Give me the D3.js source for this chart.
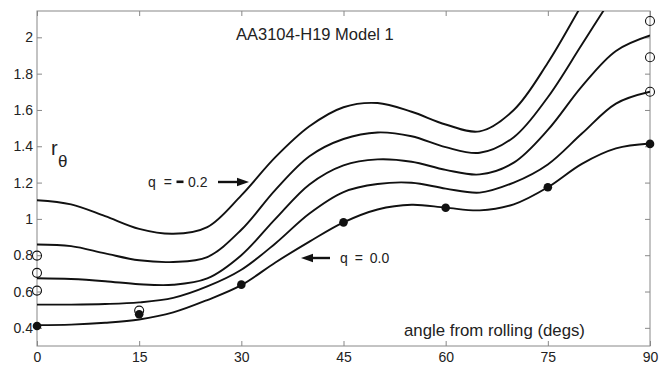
<!DOCTYPE html>
<html>
<head>
<meta charset="utf-8">
<script src="https://cdn.jsdelivr.net/npm/d3@7"></script>
<style>
  body { margin: 0; background: #fff; }
  text { font-family: "Liberation Sans", Arial, sans-serif; fill: #222; }
</style>
</head>
<body>
<div id="chart"></div>
<script>
// angles (degs) at which the model curves were read
const angles = [0, 5, 10, 15, 20, 25, 30, 35, 40, 45, 50, 55, 60, 65, 70, 75, 80, 85, 90];

// model curves, top (q = -0.2) to bottom (q = 0.0)
const curveQm20 = [1.103, 1.08, 1.015, 0.945, 0.918, 0.955, 1.13, 1.34, 1.51, 1.615, 1.638, 1.59, 1.52, 1.482, 1.60, 1.86, 2.18, 2.5, 2.75];
const curveQm15 = [0.859, 0.85, 0.81, 0.772, 0.763, 0.79, 0.94, 1.16, 1.345, 1.44, 1.476, 1.455, 1.395, 1.364, 1.45, 1.67, 1.96, 2.25, 2.5];
const curveQm10 = [0.673, 0.669, 0.657, 0.640, 0.637, 0.672, 0.80, 1.00, 1.19, 1.295, 1.328, 1.315, 1.27, 1.245, 1.31, 1.49, 1.73, 1.925, 2.01];
const curveQm05 = [0.528, 0.528, 0.531, 0.540, 0.565, 0.628, 0.72, 0.865, 1.03, 1.148, 1.192, 1.199, 1.167, 1.145, 1.20, 1.30, 1.47, 1.635, 1.70];
const curveQ00 = [0.415, 0.418, 0.428, 0.446, 0.485, 0.553, 0.635, 0.76, 0.875, 0.981, 1.052, 1.078, 1.062, 1.047, 1.08, 1.174, 1.303, 1.388, 1.415];

// measured points
const filledAngles = [0, 15, 30, 45, 60, 75, 90];
const filledR = [0.41, 0.475, 0.638, 0.981, 1.061, 1.174, 1.413];
const openAngles = [0, 0, 0, 15, 90, 90, 90];
const openR = [0.798, 0.703, 0.605, 0.495, 2.09, 1.89, 1.70];

// ticks
const xTicks = [0, 15, 30, 45, 60, 75, 90];
const yTicks = [0.4, 0.6, 0.8, 1, 1.2, 1.4, 1.6, 1.8, 2];

(function() {
    const W = 671, H = 365;
    const pL = 37, pR = 650, pT = 11, pB = 346;

    const svg = d3.select("#chart").append("svg")
        .attr("width", W)
        .attr("height", H);

    const x = d3.scaleLinear().domain([0, 90]).range([pL, pR]);
    const y = d3.scaleLinear().domain([0.3, 2.145]).range([pB, pT]);

    // clip for curves
    svg.append("defs").append("clipPath").attr("id", "plotClip")
        .append("rect")
        .attr("x", pL).attr("y", pT)
        .attr("width", pR - pL).attr("height", pB - pT);

    // axes with inward ticks
    const fmt = d => String(d);
    function styleAxis(g) {
        g.select(".domain").remove();
        g.selectAll(".tick line").attr("stroke", "#888");
        g.selectAll(".tick text").attr("fill", "#222").style("font-size", "14px");
    }
    svg.append("g").attr("transform", `translate(0,${pB})`)
        .call(d3.axisBottom(x).tickValues(xTicks).tickSize(-5).tickPadding(6).tickFormat(fmt))
        .call(styleAxis);
    svg.append("g").attr("transform", `translate(0,${pT})`)
        .call(d3.axisTop(x).tickValues(xTicks).tickSize(-5).tickFormat(""))
        .call(styleAxis);
    svg.append("g").attr("transform", `translate(${pL},0)`)
        .call(d3.axisLeft(y).tickValues(yTicks).tickSize(-5).tickPadding(4).tickFormat(fmt))
        .call(styleAxis);
    svg.append("g").attr("transform", `translate(${pR},0)`)
        .call(d3.axisRight(y).tickValues(yTicks).tickSize(-5).tickFormat(""))
        .call(styleAxis);

    svg.append("rect")
        .attr("x", pL).attr("y", pT)
        .attr("width", pR - pL).attr("height", pB - pT)
        .attr("fill", "none")
        .attr("stroke", "#888")
        .attr("stroke-width", 1);

    // model curves
    const line = d3.line()
        .x(d => x(d[0]))
        .y(d => y(d[1]))
        .curve(d3.curveCatmullRom.alpha(0.5));

    const curves = [curveQm20, curveQm15, curveQm10, curveQm05, curveQ00];
    svg.append("g").attr("clip-path", "url(#plotClip)")
        .selectAll("path")
        .data(curves)
        .enter()
        .append("path")
        .attr("d", vals => line(angles.map((a, i) => [a, vals[i]])))
        .attr("fill", "none")
        .attr("stroke", "#111")
        .attr("stroke-width", 1.9);

    // open circles
    svg.append("g").selectAll("circle")
        .data(openAngles.map((a, i) => [a, openR[i]]))
        .enter()
        .append("circle")
        .attr("cx", d => x(d[0]))
        .attr("cy", d => y(d[1]))
        .attr("r", 4.5)
        .attr("fill", "none")
        .attr("stroke", "#111")
        .attr("stroke-width", 1.1);

    // filled points
    svg.append("g").selectAll("circle")
        .data(filledAngles.map((a, i) => [a, filledR[i]]))
        .enter()
        .append("circle")
        .attr("cx", d => x(d[0]))
        .attr("cy", d => y(d[1]))
        .attr("r", 4.3)
        .attr("fill", "#111");

    // texts
    svg.append("text")
        .attr("x", 236).attr("y", 40)
        .style("font-size", "16.5px")
        .text("AA3104-H19 Model 1");

    svg.append("text")
        .attr("x", 404).attr("y", 336)
        .style("font-size", "16.8px")
        .text("angle from rolling (degs)");

    svg.append("text")
        .attr("x", 51).attr("y", 155)
        .style("font-size", "20px")
        .text("r");
    svg.append("text")
        .attr("x", 58).attr("y", 167)
        .style("font-size", "17px")
        .text("θ");

    // q = -0.2 label with arrow
    svg.append("text")
        .attr("x", 148).attr("y", 187)
        .style("font-size", "14px")
        .style("word-spacing", "4px")
        .text("q =");
    svg.append("rect")
        .attr("x", 176.5).attr("y", 180.5)
        .attr("width", 7).attr("height", 2.6)
        .attr("fill", "#111");
    svg.append("text")
        .attr("x", 188).attr("y", 187)
        .style("font-size", "14px")
        .text("0.2");

    function arrow(x0, x1, yy) {
        const dir = Math.sign(x1 - x0);
        const headLen = 12;
        svg.append("line")
            .attr("x1", x0).attr("y1", yy)
            .attr("x2", x1 - dir * headLen).attr("y2", yy)
            .attr("stroke", "#111").attr("stroke-width", 2.4);
        svg.append("path")
            .attr("d", `M${x1},${yy} L${x1 - dir * headLen},${yy - 4.2} L${x1 - dir * headLen},${yy + 4.2} Z`)
            .attr("fill", "#111");
    }
    arrow(218, 249, 182);

    // q = 0.0 label with arrow
    arrow(330, 301, 258);
    svg.append("text")
        .attr("x", 340).attr("y", 263)
        .style("font-size", "14px")
        .style("word-spacing", "3px")
        .text("q = 0.0");
})();
</script>
</body>
</html>
